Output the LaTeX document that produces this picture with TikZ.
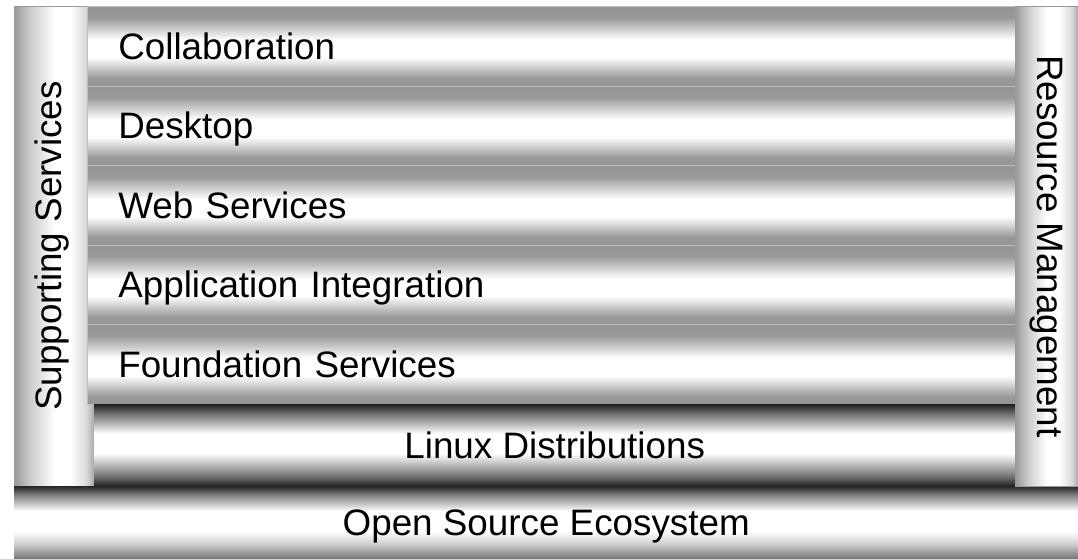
\documentclass[tikz,border=0pt]{standalone}
\usepackage{fontspec}
\setmainfont{Liberation Sans}
\usepackage{tikz}
\usetikzlibrary{positioning}

\pgfdeclareverticalshading{tubeshade}{100bp}{color(0bp)=(black!42); color(25bp)=(black!42); color(30bp)=(black!40); color(43bp)=(white); color(54bp)=(white); color(68bp)=(black!40); color(75bp)=(black!42); color(100bp)=(black!42)}
\pgfdeclareverticalshading{darkshade}{100bp}{color(0bp)=(black!88); color(25bp)=(black!88); color(31bp)=(black!55); color(45bp)=(white); color(57bp)=(white); color(69bp)=(black!55); color(75bp)=(black!88); color(100bp)=(black!88)}
\pgfdeclareverticalshading{baseshade}{100bp}{color(0bp)=(black!55); color(25bp)=(black!55); color(35bp)=(black!20); color(44bp)=(white); color(58bp)=(white); color(69bp)=(black!50); color(75bp)=(black!85); color(100bp)=(black!85)}
\pgfdeclarehorizontalshading{pillarshade}{100bp}{color(0bp)=(black!40); color(25bp)=(black!40); color(35bp)=(black!20); color(50bp)=(white); color(60bp)=(white); color(70bp)=(black!15); color(75bp)=(black!35); color(100bp)=(black!35)}

\begin{document}
\begin{tikzpicture}[x=1pt, y=-1pt, font=\fontsize{36.8}{44}\selectfont,
    layer/.style={shading=tubeshade, draw=black!25, line width=0.6pt, anchor=north west,
        minimum width=930pt, minimum height=79.6pt, text width=868pt, inner xsep=31pt,
        inner ysep=0pt, align=left, text height=26pt, text depth=0pt},
    darklayer/.style={shading=darkshade, anchor=north west, inner sep=0pt,
        text height=26pt, text depth=0pt},
    baselayer/.style={shading=baseshade, anchor=north west, inner sep=0pt,
        text height=26pt, text depth=0pt},
    pillar/.style={shading=pillarshade, draw=black!40, line width=0.6pt, anchor=north west,
        minimum width=80pt, minimum height=480pt, inner sep=0pt}]
    \useasboundingbox (0,0) rectangle (1078,559);
    % side pillars and the stack
    \node[pillar] (support) at (14,6) {};
    \foreach \name/\txt [count=\i from 0] in {collab/Collaboration, desktop/Desktop,
            web/Web Services, appint/Application Integration, found/Foundation Services}
        \node[layer] (\name) at (87,6+79.6*\i) {\txt};
    \node[darklayer, minimum width=921pt, minimum height=82pt] (linux) at (94,404) {Linux Distributions};
    \node[baselayer, minimum width=1064pt, minimum height=73pt] (oss) at (14,486) {Open Source Ecosystem};
    \node[pillar, minimum width=63pt] (resource) at (1015,6) {};
    % pillar labels
    \node[rotate=90] (supportlabel) at (52,246) {Supporting Services};
    \node[rotate=-90] (resourcelabel) at (resource.center) {Resource Management};
\end{tikzpicture}
\end{document}
